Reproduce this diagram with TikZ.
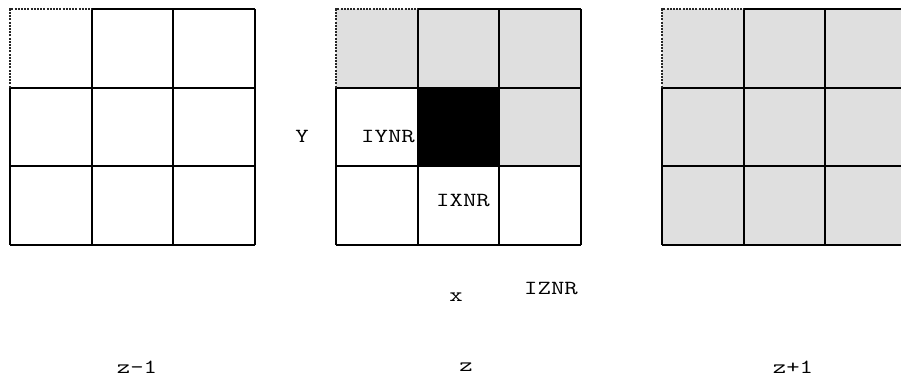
\documentclass[tikz,border=0pt]{standalone}
\usepackage{fontspec}
\usepackage{graphicx}
\newcommand{\widetext}[1]{\scalebox{1.3}[1]{#1}}
\begin{document}
\begin{tikzpicture}[x=1pt,y=-1pt,
  gridline/.style={line width=2pt,black},
  dashline/.style={line width=1.6pt,black!85,dash pattern=on 2pt off 1.2pt},
  lbl/.style={font=\ttfamily\fontsize{20}{24}\selectfont,inner sep=0pt}]
\useasboundingbox (0,0) rectangle (901,379);
\clip (0,0) rectangle (901,379);
\def\cw{81.67}
\def\ch{78.67}
\def\yo{9}
% fills
\fill[gray!25] (336,\yo) rectangle ++(3*\cw,\ch);
\fill[gray!25] (336+2*\cw,\yo+\ch) rectangle ++(\cw,\ch);
\fill[black] (336+\cw,\yo+\ch) rectangle ++(\cw,\ch);
\fill[gray!25] (662,\yo) rectangle ++(3*\cw,3*\ch);
% grid lines
\foreach \xo in {10,336,662}{
  \foreach \i in {1,2,3}{
    \draw[gridline] (\xo+\i*\cw,\yo) -- (\xo+\i*\cw,\yo+3*\ch);
    \draw[gridline] (\xo,\yo+\i*\ch) -- (\xo+3*\cw,\yo+\i*\ch);
  }
  \draw[gridline] (\xo,\yo+\ch) -- (\xo,\yo+3*\ch);
  \draw[gridline] (\xo+\cw,\yo) -- (\xo+3*\cw,\yo);
  \draw[dashline] (\xo,\yo+\ch) -- (\xo,\yo) -- (\xo+\cw,\yo);
}
% labels
\node[lbl] (ylab) at (302,136) {\widetext{Y}};
\node[lbl,anchor=east] (iynr) at (415,137) {\widetext{IYNR}};
\node[lbl] (ixnr) at (463,201) {\widetext{IXNR}};
\node[lbl] (xlab) at (456,297) {\widetext{x}};
\node[lbl] (iznr) at (551,289) {\widetext{IZNR}};
\node[lbl] (zm) at (137,367) {\widetext{z-1}};
\node[lbl] (z) at (466,367) {\widetext{z}};
\node[lbl] (zp) at (793,367) {\widetext{z+1}};
\end{tikzpicture}
\end{document}
